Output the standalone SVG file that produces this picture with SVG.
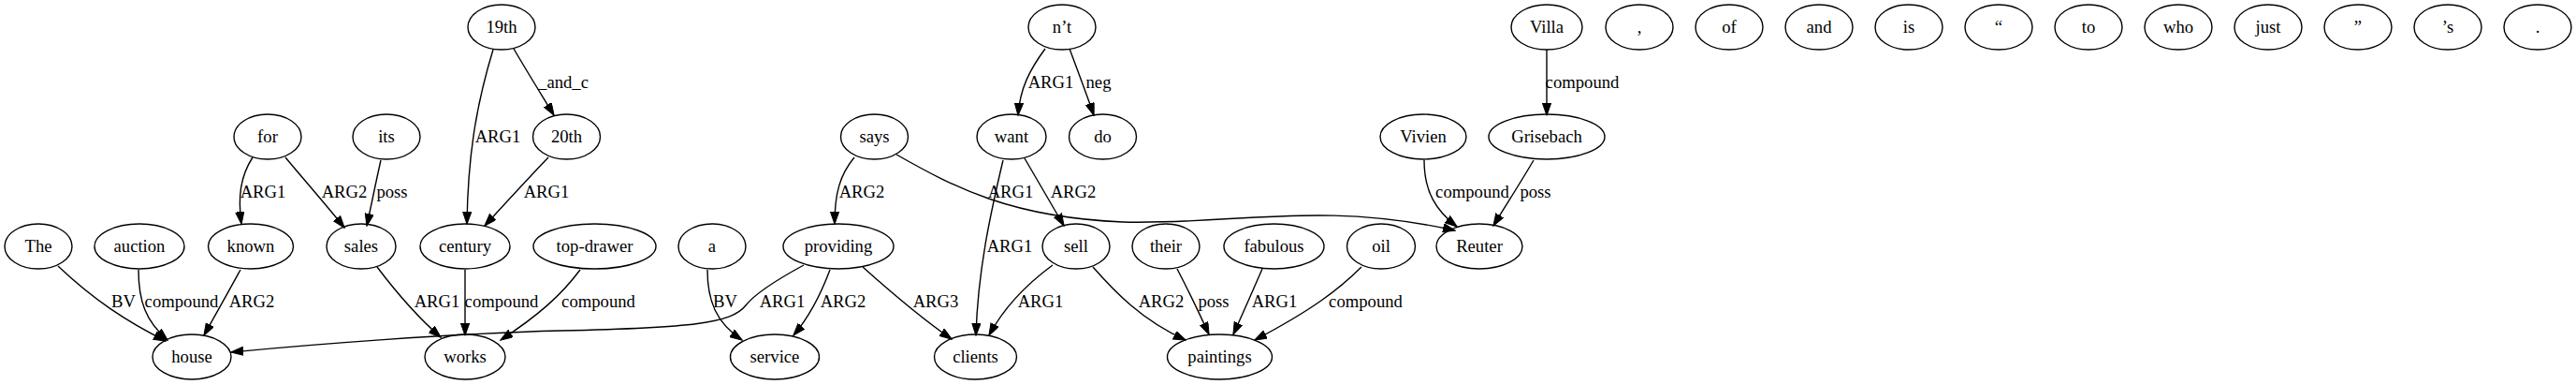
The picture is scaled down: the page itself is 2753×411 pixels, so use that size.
<svg xmlns="http://www.w3.org/2000/svg" width="2753" height="411" viewBox="0 0 2753 411">
<style>
.n ellipse{fill:none;stroke:#000;stroke-width:1.4}
text{font-family:"Liberation Serif","Times New Roman",serif;font-size:18.67px;fill:#000;text-anchor:middle}
.e path{fill:none;stroke:#000;stroke-width:1.4;marker-end:url(#arr)}
</style>
<defs>
<marker id="arr" markerWidth="14" markerHeight="10" refX="13" refY="4.7" orient="auto" markerUnits="userSpaceOnUse"><path d="M0,0 L13.3,4.7 L0,9.3 z" fill="#000" stroke="#000" stroke-width="1"/></marker>
</defs>
<rect width="2753" height="411" fill="#fff"/>
<g id="nodes" class="n">
<g id="n-19th"><ellipse cx="536" cy="29" rx="36" ry="24"/><text x="536" y="35">19th</text></g>
<g id="n-nt"><ellipse cx="1135" cy="29" rx="36" ry="24"/><text x="1135" y="35">n’t</text></g>
<g id="n-Villa"><ellipse cx="1653" cy="29" rx="38" ry="24"/><text x="1653" y="35">Villa</text></g>
<g id="n-comma"><ellipse cx="1752" cy="29" rx="36" ry="24"/><text x="1752" y="35">,</text></g>
<g id="n-of"><ellipse cx="1848" cy="29" rx="36" ry="24"/><text x="1848" y="35">of</text></g>
<g id="n-and"><ellipse cx="1944" cy="29" rx="36" ry="24"/><text x="1944" y="35">and</text></g>
<g id="n-is"><ellipse cx="2040" cy="29" rx="36" ry="24"/><text x="2040" y="35">is</text></g>
<g id="n-lquote"><ellipse cx="2136" cy="29" rx="36" ry="24"/><text x="2136" y="35">“</text></g>
<g id="n-to"><ellipse cx="2232" cy="29" rx="36" ry="24"/><text x="2232" y="35">to</text></g>
<g id="n-who"><ellipse cx="2328" cy="29" rx="36" ry="24"/><text x="2328" y="35">who</text></g>
<g id="n-just"><ellipse cx="2424" cy="29" rx="36" ry="24"/><text x="2424" y="35">just</text></g>
<g id="n-rquote"><ellipse cx="2520" cy="29" rx="36" ry="24"/><text x="2520" y="35">”</text></g>
<g id="n-s"><ellipse cx="2616" cy="29" rx="36" ry="24"/><text x="2616" y="35">’s</text></g>
<g id="n-period"><ellipse cx="2712" cy="29" rx="36" ry="24"/><text x="2712" y="35">.</text></g>

<g id="n-for"><ellipse cx="286" cy="146" rx="36" ry="24"/><text x="286" y="152">for</text></g>
<g id="n-its"><ellipse cx="413" cy="146" rx="36" ry="24"/><text x="413" y="152">its</text></g>
<g id="n-20th"><ellipse cx="605.5" cy="146" rx="36" ry="24"/><text x="605.5" y="152">20th</text></g>
<g id="n-says"><ellipse cx="934.5" cy="146" rx="36" ry="24"/><text x="934.5" y="152">says</text></g>
<g id="n-want"><ellipse cx="1081" cy="146" rx="37" ry="24"/><text x="1081" y="152">want</text></g>
<g id="n-do"><ellipse cx="1178.5" cy="146" rx="36" ry="24"/><text x="1178.5" y="152">do</text></g>
<g id="n-Vivien"><ellipse cx="1521" cy="146" rx="46" ry="24"/><text x="1521" y="152">Vivien</text></g>
<g id="n-Grisebach"><ellipse cx="1653" cy="146" rx="62" ry="24"/><text x="1653" y="152">Grisebach</text></g>

<g id="n-The"><ellipse cx="41" cy="263" rx="36" ry="24"/><text x="41" y="269">The</text></g>
<g id="n-auction"><ellipse cx="149" cy="263" rx="48" ry="24"/><text x="149" y="269">auction</text></g>
<g id="n-known"><ellipse cx="268" cy="263" rx="45.5" ry="24"/><text x="268" y="269">known</text></g>
<g id="n-sales"><ellipse cx="386" cy="263" rx="37" ry="24"/><text x="386" y="269">sales</text></g>
<g id="n-century"><ellipse cx="497" cy="263" rx="48" ry="24"/><text x="497" y="269">century</text></g>
<g id="n-topdrawer"><ellipse cx="635.5" cy="263" rx="65.5" ry="24"/><text x="635.5" y="269">top-drawer</text></g>
<g id="n-a"><ellipse cx="761" cy="263" rx="36" ry="24"/><text x="761" y="269">a</text></g>
<g id="n-providing"><ellipse cx="896" cy="263" rx="59" ry="24"/><text x="896" y="269">providing</text></g>
<g id="n-sell"><ellipse cx="1150" cy="263" rx="36" ry="24"/><text x="1150" y="269">sell</text></g>
<g id="n-their"><ellipse cx="1246" cy="263" rx="36" ry="24"/><text x="1246" y="269">their</text></g>
<g id="n-fabulous"><ellipse cx="1361.5" cy="263" rx="53.5" ry="24"/><text x="1361.5" y="269">fabulous</text></g>
<g id="n-oil"><ellipse cx="1476" cy="263" rx="36.5" ry="24"/><text x="1476" y="269">oil</text></g>
<g id="n-Reuter"><ellipse cx="1581" cy="263" rx="46" ry="24"/><text x="1581" y="269">Reuter</text></g>

<g id="n-house"><ellipse cx="205" cy="381" rx="42" ry="24"/><text x="205" y="387">house</text></g>
<g id="n-works"><ellipse cx="497" cy="381" rx="43" ry="24"/><text x="497" y="387">works</text></g>
<g id="n-service"><ellipse cx="828" cy="381" rx="47.5" ry="24"/><text x="828" y="387">service</text></g>
<g id="n-clients"><ellipse cx="1042.5" cy="381" rx="44" ry="24"/><text x="1042.5" y="387">clients</text></g>
<g id="n-paintings"><ellipse cx="1303.5" cy="381" rx="56" ry="24"/><text x="1303.5" y="387">paintings</text></g>
</g>

<g id="edges" class="e">
<path d="M62,284 C100,320 135,343 177,364"/>
<path d="M148,288 C148,322 156,343 179,363"/>
<path d="M257,288 C245,310 232,333 218,358"/>
<path d="M270,168 C257,188 254,210 258,239"/>
<path d="M305,168 C325,192 348,218 368,243"/>
<path d="M407,171 C402,193 397,218 392,241"/>
<path d="M403,285 C428,318 448,340 471,360"/>
<path d="M859,283 C835,296 808,312 797,326 C782,345 740,350 600,353 C480,356 330,368 247,376"/>
<path d="M497,288 L497,358"/>
<path d="M620,288 C600,315 575,337 535,363"/>
<path d="M527,53 C508,115 500,170 499,239"/>
<path d="M549,52 C563,76 578,100 592,123"/>
<path d="M586,168 C563,192 541,216 518,241"/>
<path d="M756,288 C756,322 766,345 793,363"/>
<path d="M887,288 C878,312 866,337 848,358"/>
<path d="M922,285 C950,310 982,338 1017,362"/>
<path d="M913,168 C898,186 892,206 892,239"/>
<path d="M958,165 C1020,200 1080,232 1200,237 C1320,240 1410,214 1555,246"/>
<path d="M1117,52 C1100,75 1090,95 1088,123"/>
<path d="M1143,52 C1152,76 1161,100 1169,123"/>
<path d="M1072,171 C1058,230 1045,290 1043,358"/>
<path d="M1095,169 C1109,193 1123,217 1137,241"/>
<path d="M1125,283 C1095,305 1072,330 1057,358"/>
<path d="M1168,285 C1190,310 1220,342 1267,363"/>
<path d="M1258,287 C1270,310 1281,333 1292,357"/>
<path d="M1349,287 C1339,310 1329,333 1318,357"/>
<path d="M1455,285 C1430,310 1400,332 1341,363"/>
<path d="M1522,171 C1522,205 1535,225 1557,242"/>
<path d="M1639,171 C1625,195 1610,218 1596,241"/>
<path d="M1653,53 L1653,123"/>
</g>

<g id="labels">
<text x="132" y="328">BV</text>
<text x="194" y="328">compound</text>
<text x="269" y="328">ARG2</text>
<text x="281" y="211">ARG1</text>
<text x="368" y="211">ARG2</text>
<text x="419" y="211">poss</text>
<text x="467" y="328">ARG1</text>
<text x="836" y="328">ARG1</text>
<text x="536" y="328">compound</text>
<text x="639.5" y="328">compound</text>
<text x="532" y="152">ARG1</text>
<text x="602" y="94">_and_c</text>
<text x="584" y="211">ARG1</text>
<text x="775" y="328">BV</text>
<text x="901" y="328">ARG2</text>
<text x="1000" y="328">ARG3</text>
<text x="921" y="211">ARG2</text>
<text x="1080" y="211">ARG1</text>
<text x="1123" y="94">ARG1</text>
<text x="1174" y="94">neg</text>
<text x="1079" y="269">ARG1</text>
<text x="1147" y="211">ARG2</text>
<text x="1112" y="328">ARG1</text>
<text x="1241" y="328">ARG2</text>
<text x="1297" y="328">poss</text>
<text x="1362" y="328">ARG1</text>
<text x="1459.5" y="328">compound</text>
<text x="1573.5" y="211">compound</text>
<text x="1641" y="211">poss</text>
<text x="1691" y="94">compound</text>
</g>
</svg>
